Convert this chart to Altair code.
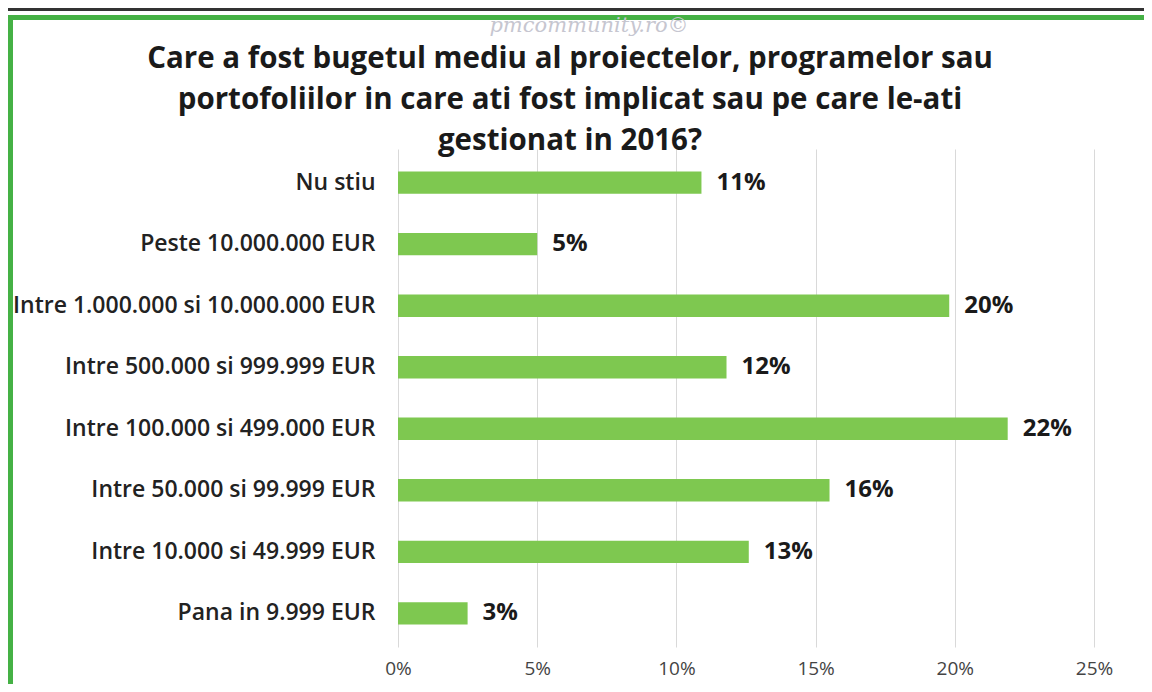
import altair as alt
import pandas as pd

categories = [
    "Nu stiu",
    "Peste 10.000.000 EUR",
    "Intre 1.000.000 si 10.000.000 EUR",
    "Intre 500.000 si 999.999 EUR",
    "Intre 100.000 si 499.000 EUR",
    "Intre 50.000 si 99.999 EUR",
    "Intre 10.000 si 49.999 EUR",
    "Pana in 9.999 EUR",
]
shares = [0.109, 0.050, 0.198, 0.118, 0.219, 0.155, 0.126, 0.025]
share_labels = ["11%", "5%", "20%", "12%", "22%", "16%", "13%", "3%"]
x_ticks = [0, 0.05, 0.10, 0.15, 0.20, 0.25]

title_lines = [
    "Care a fost bugetul mediu al proiectelor, programelor sau",
    "portofoliilor in care ati fost implicat sau pe care le-ati",
    "gestionat in 2016?",
]
watermark = "pmcommunity.ro©"

df = pd.DataFrame({"cat": categories, "share": shares, "lbl": share_labels})

W, H = 696, 498
PAD = {"left": 390, "top": 141, "right": 50, "bottom": 37}

y_enc = alt.Y(
    "cat:N",
    sort=categories,
    title=None,
    scale=alt.Scale(paddingInner=0.637, paddingOuter=0.366),
    axis=alt.Axis(
        ticks=False,
        domain=False,
        grid=False,
        labelFont="Open Sans",
        labelFontSize=23,
        labelFontWeight=600,
        labelColor="#222222",
        labelPadding=23,
        labelLimit=400,
    ),
)
x_enc = alt.X(
    "share:Q",
    title=None,
    scale=alt.Scale(domain=[0, 0.25], nice=False),
    axis=alt.Axis(
        values=x_ticks,
        format=".0%",
        ticks=False,
        domain=False,
        grid=True,
        gridColor="#d9d9d9",
        gridWidth=1,
        labelFlush=False,
        labelFont="Open Sans",
        labelFontSize=19,
        labelColor="#444444",
        labelPadding=12,
    ),
)

bars = alt.Chart(df).mark_bar(color="#7ec850").encode(y=y_enc, x=x_enc)

labels = alt.Chart(df).mark_text(
    align="left",
    baseline="middle",
    dx=15,
    font="Open Sans",
    fontSize=24,
    fontWeight="bold",
    color="#1a1a1a",
).encode(y=alt.Y("cat:N", sort=categories), x="share:Q", text="lbl:N")

one = alt.Data(values=[{"k": 1}])

title_text = alt.Chart(one).mark_text(
    text=title_lines,
    font="Open Sans",
    fontSize=29.5,
    fontWeight="bold",
    color="#1a1a1a",
    lineHeight=41,
    align="center",
    baseline="alphabetic",
).encode(x=alt.value(562 - PAD["left"]), y=alt.value(60 - PAD["top"]))

dark_line = alt.Chart(one).mark_rule(color="#333333", strokeWidth=3).encode(
    x=alt.value(-PAD["left"]), x2=alt.value(W + PAD["right"]), y=alt.value(-PAD["top"] + 1.5)
)
green_top = alt.Chart(one).mark_rule(color="#45b145", strokeWidth=5).encode(
    x=alt.value(-PAD["left"]), x2=alt.value(W + PAD["right"]), y=alt.value(-PAD["top"] + 9.5)
)
green_left = alt.Chart(one).mark_rule(color="#45b145", strokeWidth=5).encode(
    x=alt.value(-PAD["left"] + 2.5), y=alt.value(-PAD["top"] + 7), y2=alt.value(H + PAD["bottom"])
)
wm = alt.Chart(one).mark_text(
    text=watermark,
    font="DejaVu Serif",
    fontStyle="italic",
    fontSize=21,
    color="#c6c6d0",
    align="center",
    baseline="middle",
).encode(x=alt.value(581 - PAD["left"]), y=alt.value(18 - PAD["top"]))

chart = (
    alt.layer(bars, labels, title_text, dark_line, green_top, green_left, wm)
    .properties(
        width=W,
        height=H,
        padding=PAD,
        autosize=alt.AutoSizeParams(type="none"),
        background="white",
    )
    .configure_view(stroke=None)
)

chart.save("out.html", embed_options={"renderer": "svg", "actions": False})
